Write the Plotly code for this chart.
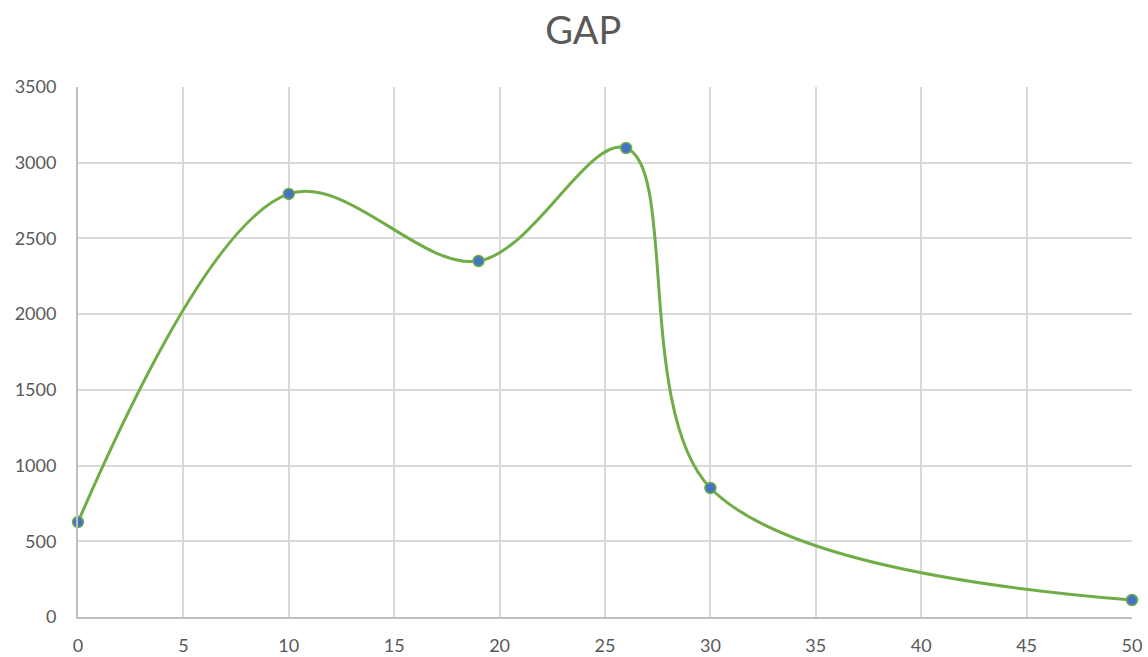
import plotly.graph_objects as go

x_vals = [0, 10, 19, 26, 30, 50]
y_vals = [627, 2794, 2351, 3097, 852, 112]
x_ticks = [0, 5, 10, 15, 20, 25, 30, 35, 40, 45, 50]
y_ticks = [0, 500, 1000, 1500, 2000, 2500, 3000, 3500]
title_text = "GAP"

fig = go.Figure()
fig.add_trace(go.Scatter(
    x=x_vals, y=y_vals, mode="lines+markers",
    line=dict(color="#70AD47", width=3, shape="spline", smoothing=1.0),
    marker=dict(color="#4472C4", size=11, line=dict(color="#70AD47", width=1.5)),
    cliponaxis=False, showlegend=False,
))

font_fam = "Lato, Open Sans, sans-serif"
fig.update_layout(
    width=1148, height=657,
    paper_bgcolor="white", plot_bgcolor="white",
    margin=dict(l=78, r=16, t=87, b=40, autoexpand=False),
    title=dict(text=title_text, x=0.508, xanchor="center", y=0.954, yanchor="middle",
               font=dict(family=font_fam, size=38, color="#595959")),
    xaxis=dict(range=[0, 50], tickvals=x_ticks, showgrid=True, gridcolor="#D9D9D9", gridwidth=2,
               zeroline=False, showline=True, linecolor="#BFBFBF", linewidth=2, automargin=False,
               ticks="", ticklabelstandoff=11,
               tickfont=dict(family=font_fam, size=18, color="#595959")),
    yaxis=dict(range=[0, 3500], tickvals=y_ticks, showgrid=True, gridcolor="#D9D9D9", gridwidth=2,
               zeroline=False, showline=True, linecolor="#BFBFBF", linewidth=2, automargin=False,
               ticks="", ticklabelstandoff=16,
               tickfont=dict(family=font_fam, size=18, color="#595959")),
)
fig.write_html("out.html", config={"displayModeBar": False},
               post_script="document.body.style.margin='0';")
